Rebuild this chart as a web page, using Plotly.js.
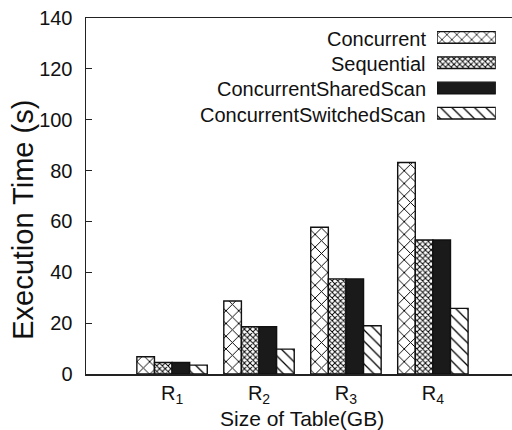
<!DOCTYPE html>
<html>
<head>
<meta charset="utf-8">
<script src="https://cdn.plot.ly/plotly-3.0.1.min.js"></script>
<style>html,body{margin:0;padding:0;background:#fff;}#chart{width:512px;height:430px;}</style>
</head>
<body>
<div id="chart"></div>
<script>
// ---- data ----
const categories = ['R<sub>1</sub>', 'R<sub>2</sub>', 'R<sub>3</sub>', 'R<sub>4</sub>'];
const positions = [0, 1, 2, 3];
const seriesNames = ['Concurrent', 'Sequential', 'ConcurrentSharedScan', 'ConcurrentSwitchedScan'];
const concurrent = [6.8, 28.7, 57.7, 83.2];
const sequential = [4.5, 18.6, 37.4, 52.7];
const sharedScan = [4.5, 18.6, 37.4, 52.7];
const switchedScan = [3.5, 9.8, 19.0, 25.8];
const yTicks = [0, 20, 40, 60, 80, 100, 120, 140];

// ---- styles ----
const patShapes = ['x', 'x', '', '\\'];
const patSizes = [9, 4, 8, 8];
const patSolid = [0.2, 0.42, 0.3, 0.16];
const fills = ['#000', '#000', '#1a1a1a', '#000'];
const allSeries = [concurrent, sequential, sharedScan, switchedScan];
const font = 'Liberation Sans, Arial, sans-serif';

const traces = allSeries.map((vals, i) => ({
  type: 'bar',
  x: positions,
  y: vals,
  name: seriesNames[i],
  showlegend: false,
  marker: {
    color: fills[i],
    line: {color: '#111', width: 1.4},
    pattern: patShapes[i] ? {shape: patShapes[i], size: patSizes[i], solidity: patSolid[i], bgcolor: 'white', fgcolor: '#000', fillmode: 'replace'} : {shape: ''}
  },
  hoverinfo: 'skip'
}));

// legend keys drawn as a small bar trace on separate axes
traces.push({
  type: 'bar',
  orientation: 'h',
  x: seriesNames.map(() => 1),
  y: [0, 1, 2, 3],
  xaxis: 'x2',
  yaxis: 'y2',
  width: 0.46,
  showlegend: false,
  hoverinfo: 'skip',
  marker: {
    color: fills,
    line: {color: '#111', width: 1.4},
    pattern: {shape: patShapes, size: [7, 4, 8, 8], solidity: patSolid, bgcolor: 'white', fgcolor: '#000', fillmode: 'replace'}
  }
});

const annotations = seriesNames.map((n, i) => ({
  text: n, xref: 'paper', yref: 'y2', x: 0.803, y: i + 0.06,
  xanchor: 'right', yanchor: 'middle', showarrow: false,
  font: {family: font, size: 20, color: '#111'}
}));
annotations.push({
  text: 'Execution Time (s)', xref: 'paper', yref: 'paper', x: -0.148, y: 0.433,
  xanchor: 'center', yanchor: 'middle', textangle: -90, showarrow: false,
  font: {family: font, size: 29, color: '#111'}
});
annotations.push({
  text: 'Size of Table(GB)', xref: 'paper', yref: 'paper', x: 0.507, y: -0.124,
  xanchor: 'center', yanchor: 'middle', showarrow: false,
  font: {family: font, size: 21, color: '#111'}
});

const layout = {
  width: 512, height: 430,
  margin: {l: 86, r: 0, t: 18, b: 56},
  paper_bgcolor: 'white', plot_bgcolor: 'white',
  barmode: 'group', bargap: 0.19, bargroupgap: 0,
  showlegend: false,
  font: {family: font, color: '#111'},
  xaxis: {
    range: [-0.99, 3.91], tickvals: positions, ticktext: categories,
    ticks: '', showgrid: false, zeroline: false,
    showline: true, linecolor: '#222', linewidth: 1.5, mirror: true,
    ticklabelstandoff: 0,
    tickfont: {family: font, size: 20, color: '#111'}
  },
  yaxis: {
    range: [0, 140], tickvals: yTicks, ticks: 'inside', ticklen: 6, tickcolor: '#222',
    showgrid: false, zeroline: false, showline: true, linecolor: '#222', linewidth: 1.5,
    ticklabelstandoff: 8,
    tickfont: {family: font, size: 20, color: '#111'}
  },
  xaxis2: {domain: [0.824, 0.962], range: [0, 1], visible: false, anchor: 'y2', fixedrange: true},
  yaxis2: {domain: [0.697, 0.981], range: [3.5, -0.5], visible: false, anchor: 'x2', fixedrange: true},
  annotations: annotations
};

Plotly.newPlot('chart', traces, layout, {staticPlot: true, displayModeBar: false});
</script>
</body>
</html>
